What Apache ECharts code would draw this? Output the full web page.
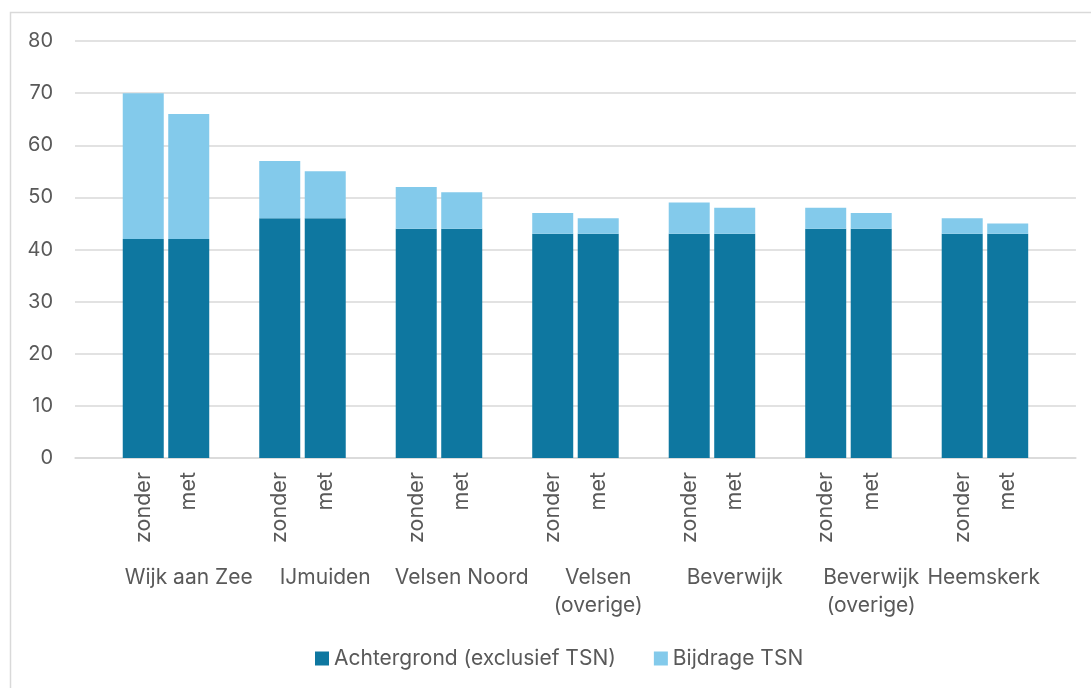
<!DOCTYPE html>
<html>
<head>
<meta charset="utf-8">
<script src="https://cdn.jsdelivr.net/npm/echarts@6/dist/echarts.min.js"></script>
<style>html,body{margin:0;padding:0;background:#fff;}#c{width:1091px;height:688px;}</style>
</head>
<body>
<div id="c"></div>
<script>
var groups = ['Wijk aan Zee', 'IJmuiden', 'Velsen Noord', 'Velsen\n(overige)', 'Beverwijk', 'Beverwijk\n(overige)', 'Heemskerk'];
var variants = ['zonder', 'met'];
var achtergrond = [42, 42, 46, 46, 44, 44, 43, 43, 43, 43, 44, 44, 43, 43];
var bijdrage = [28, 24, 11, 9, 8, 7, 4, 3, 6, 5, 4, 3, 3, 2];
var yTicks = [0, 10, 20, 30, 40, 50, 60, 70, 80];
var seriesNames = ['Achtergrond (exclusief TSN)', 'Bijdrage TSN'];

// slots: leading blank, then per group [zonder, met, blank]
var subSlots = [''], groupSlots = [''], achSlots = [null], bijSlots = [null];
groups.forEach(function (g, gi) {
  variants.forEach(function (v, vi) {
    subSlots.push(v);
    groupSlots.push(vi === 1 ? g : '');
    achSlots.push(achtergrond[gi * 2 + vi]);
    bijSlots.push(bijdrage[gi * 2 + vi]);
  });
  subSlots.push(''); groupSlots.push(''); achSlots.push(null); bijSlots.push(null);
});

var txt = '#595959';
var font = 'Inter, "Noto Sans", sans-serif';
var chart = echarts.init(document.getElementById('c'));
chart.setOption({
  animation: false,
  backgroundColor: '#fff',
  graphic: [{
    type: 'rect', silent: true,
    shape: { x: 10.5, y: 12.5, width: 1200, height: 800 },
    style: { fill: 'none', stroke: '#d9d9d9', lineWidth: 1.5 }
  }],
  grid: { left: 75, right: 14, top: 41, bottom: 230, containLabel: false },
  legend: {
    data: seriesNames, left: 310, top: 643, icon: 'rect',
    itemWidth: 14, itemHeight: 14, itemGap: 38,
    textStyle: { fontSize: 21, color: txt, fontFamily: font }
  },
  xAxis: [{
    type: 'category', data: subSlots,
    axisLine: { show: true, lineStyle: { color: '#d9d9d9', width: 1.5 } },
    axisTick: { show: false },
    axisLabel: { interval: 0, rotate: 90, margin: 14, fontSize: 21.5, color: txt, fontFamily: font }
  }, {
    type: 'category', data: groupSlots, position: 'bottom',
    axisLine: { show: false }, axisTick: { show: false },
    axisLabel: {
      interval: 0, margin: 106, fontSize: 21, lineHeight: 28, color: txt, fontFamily: font,
      formatter: function (v) { return v === 'Heemskerk' ? '{s|' + v + '}' : v; },
      rich: { s: { fontSize: 21, color: txt, fontFamily: font, padding: [0, 48, 0, 0] } }
    }
  }],
  yAxis: {
    type: 'value', min: yTicks[0], max: yTicks[yTicks.length - 1], interval: 10,
    axisLine: { show: false }, axisTick: { show: false },
    splitLine: { lineStyle: { color: '#d9d9d9', width: 1.5 } },
    axisLabel: { margin: 22, fontSize: 20, color: txt, fontFamily: font }
  },
  series: [{
    name: seriesNames[0], type: 'bar', stack: 'a', data: achSlots, barWidth: 41,
    itemStyle: { color: '#0E77A0' }, xAxisIndex: 0
  }, {
    name: seriesNames[1], type: 'bar', stack: 'a', data: bijSlots, barWidth: 41,
    itemStyle: { color: '#83CAEB' }, xAxisIndex: 0
  }]
});
</script>
</body>
</html>
